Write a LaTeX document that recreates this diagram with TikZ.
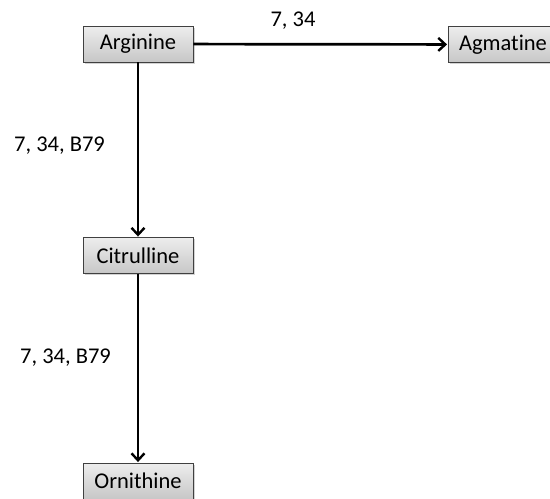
\documentclass[tikz,border=0pt]{standalone}
\usepackage{fontspec}
\setmainfont{Carlito}[Ligatures=NoCommon]
\usetikzlibrary{arrows.meta,shadows}
\begin{document}
\begin{tikzpicture}[x=1pt,y=1pt,
  box/.style={draw=black!75, line width=0.9pt, top color=white!93!black, bottom color=black!22,
    minimum width=110pt, minimum height=36pt, inner sep=0pt, font=\fontsize{22.5}{26}\selectfont,
    drop shadow={shadow xshift=1.5pt, shadow yshift=-1.5pt, opacity=0.35}},
  conn/.style={line width=2.7pt, shorten >=0.5pt, -{Straight Barb[length=7pt,width=13pt,line width=2.4pt]}},
  lbl/.style={font=\fontsize{22.5}{26}\selectfont, inner sep=0pt}]
\useasboundingbox (0,0) rectangle (550,-499);
\node[box] (arg) at (138,-44) {Arginine};
\node[box] (agm) at (503,-44.5) {Agmatine};
\node[box] (cit) at (138,-255.5) {Citrulline};
\node[box] (orn) at (138,-481) {Ornithine};
\draw[conn] (arg) -- (agm);
\draw[conn] (arg) -- (cit);
\draw[conn] (cit) -- (orn);
\node[lbl] (l1) at (293,-21) {7, 34};
\node[lbl] (l2) at (59.5,-146) {7, 34, B79};
\node[lbl] (l3) at (65.5,-358) {7, 34, B79};
\end{tikzpicture}
\end{document}
